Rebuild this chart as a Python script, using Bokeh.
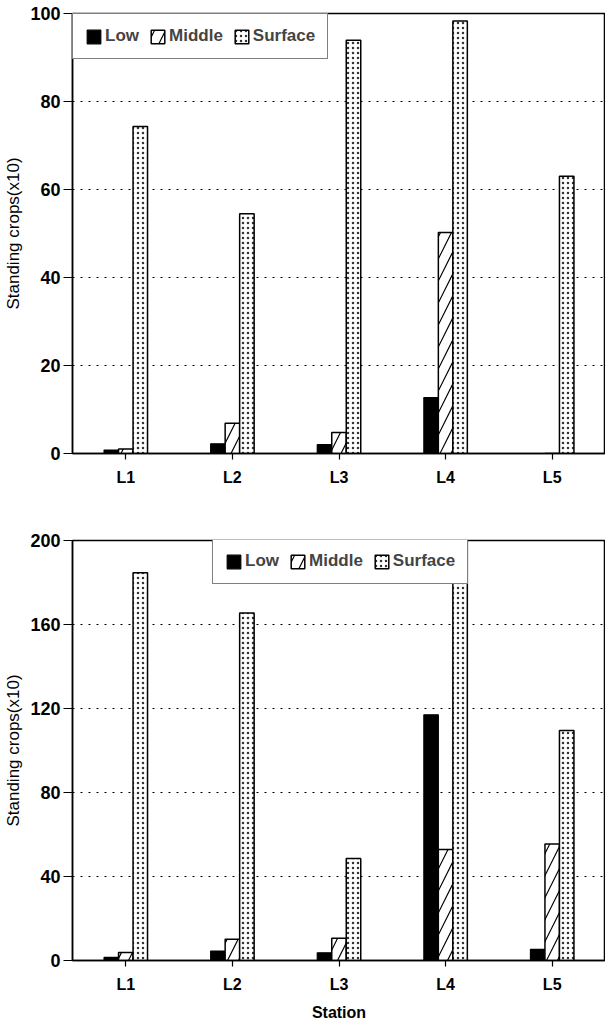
from bokeh.plotting import figure
from bokeh.layouts import column
from bokeh.models import FixedTicker, ColumnDataSource, Legend, LegendItem, Range1d
from bokeh.transform import dodge
from bokeh.embed import file_html
from bokeh.resources import INLINE

stations = ["L1", "L2", "L3", "L4", "L5"]
positions = [1, 2, 3, 4, 5]
series = ["Low", "Middle", "Surface"]

top_low = [0.8, 2.2, 2.0, 12.7, 0.0]
top_middle = [1.0, 6.9, 4.8, 50.2, 0.0]
top_surface = [74.3, 54.5, 93.9, 98.3, 63.0]

bot_low = [1.5, 4.5, 3.7, 117.0, 5.3]
bot_middle = [3.8, 10.1, 10.6, 52.8, 55.5]
bot_surface = [184.6, 165.5, 48.6, 200.0, 109.5]

top_ticks = [0, 20, 40, 60, 80, 100]
bot_ticks = [0, 40, 80, 120, 160, 200]

FONT = "Liberation Sans"
BW = 0.136


def make(low, mid, surf, ticks, border_top, border_bottom, xlabel, legend_loc):
    src = ColumnDataSource(dict(x=positions, low=low, mid=mid, surf=surf))
    fh = 440 if ticks[-1] == 100 else 420
    p = figure(width=605, height=border_top + fh + border_bottom,
               frame_width=533, frame_height=fh,
               min_border_left=72, min_border_right=0, min_border_top=border_top,
               min_border_bottom=border_bottom,
               x_range=Range1d(0.5, 5.5), y_range=Range1d(0, ticks[-1]),
               output_backend="svg", toolbar_location=None,
               background_fill_color="white", border_fill_color="white")
    p.outline_line_color = "black"
    p.outline_line_width = 1.5
    p.xgrid.visible = False
    p.ygrid.ticker = FixedTicker(ticks=ticks)
    p.ygrid.grid_line_color = "black"
    p.ygrid.grid_line_dash = "2 6"
    p.ygrid.grid_line_width = 1.2

    r1 = p.vbar(x=dodge("x", -BW, range=p.x_range), top="low", width=BW, source=src,
                fill_color="black", line_color="black", line_width=1.2)
    r2 = p.vbar(x=dodge("x", 0, range=p.x_range), top="mid", width=BW, source=src,
                fill_color="white", line_color="black", line_width=1.5,
                hatch_pattern="/", hatch_scale=22, hatch_weight=1.2, hatch_color="black")
    r3 = p.vbar(x=dodge("x", BW, range=p.x_range), top="surf", width=BW, source=src,
                fill_color="white", line_color="black", line_width=1.5,
                hatch_pattern=".", hatch_scale=5, hatch_weight=1.3, hatch_color="#333333")

    for ax in (p.xaxis[0], p.yaxis[0]):
        ax.axis_line_width = 1.5
        ax.major_tick_line_width = 1.2
        ax.minor_tick_line_color = None
        ax.major_label_text_font = FONT
        ax.major_label_text_font_style = "bold"
        ax.major_label_text_color = "black"
        ax.axis_label_text_font = FONT
        ax.axis_label_text_font_style = "bold"
        ax.axis_label_text_font_size = "16px"
        ax.axis_label_text_color = "black"

    p.xaxis.ticker = FixedTicker(ticks=positions)
    p.xaxis.major_label_overrides = {k: v for k, v in zip(positions, stations)}
    p.xaxis.major_label_text_font_size = "16px"
    p.xaxis.major_tick_in = 0
    p.xaxis.major_tick_out = 6
    p.xaxis.major_label_standoff = 9
    if xlabel:
        p.xaxis.axis_label = xlabel
        p.xaxis.axis_label_standoff = 8

    p.yaxis.ticker = FixedTicker(ticks=ticks)
    p.yaxis.major_label_text_font_size = "18px"
    p.yaxis.major_tick_in = 0
    p.yaxis.major_tick_out = 9
    p.yaxis.major_label_standoff = 3
    p.yaxis.axis_label = "Standing crops(x10)"
    p.yaxis.axis_label_standoff = 4
    p.yaxis.axis_label_text_font_style = "normal"
    p.yaxis.axis_label_text_font_size = "17px"

    legend = Legend(items=[LegendItem(label=series[0], renderers=[r1]),
                           LegendItem(label=series[1], renderers=[r2]),
                           LegendItem(label=series[2], renderers=[r3])],
                    orientation="horizontal", location=legend_loc, margin=0,
                    padding=12, spacing=10, label_standoff=3,
                    glyph_width=17, glyph_height=17,
                    label_text_font=FONT, label_text_font_style="bold",
                    label_text_font_size="17px",
                    border_line_color="black", border_line_width=1.5,
                    background_fill_color="white", background_fill_alpha=1.0)
    p.add_layout(legend, "center")
    return p


p1 = make(top_low, top_middle, top_surface, top_ticks, 13, 47, None, "top_left")
p2 = make(bot_low, bot_middle, bot_surface, bot_ticks, 40, 63, "Station", (140, 376))

layout = column(p1, p2, spacing=0)
open("out.html", "w").write(file_html(layout, INLINE))
